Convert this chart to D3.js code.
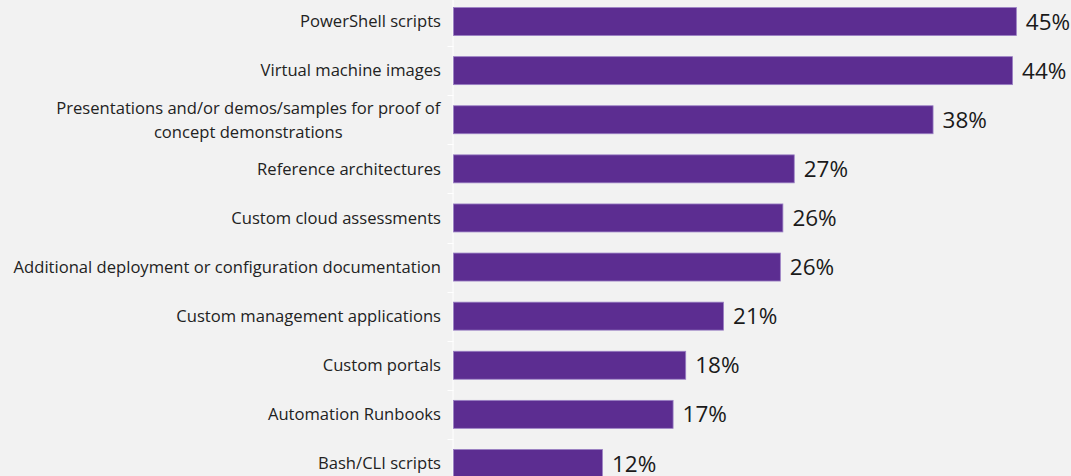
<!DOCTYPE html>
<html>
<head>
<meta charset="utf-8">
<script src="https://cdn.jsdelivr.net/npm/d3@7"></script>
<style>
  body { margin: 0; background: #f2f2f2; }
  svg { display: block; font-family: "Open Sans", sans-serif; }
</style>
</head>
<body>
<script>
const categories = [
  "PowerShell scripts",
  "Virtual machine images",
  "Presentations and/or demos/samples for proof of|concept demonstrations",
  "Reference architectures",
  "Custom cloud assessments",
  "Additional deployment or configuration documentation",
  "Custom management applications",
  "Custom portals",
  "Automation Runbooks",
  "Bash/CLI scripts"
];
const values = [44.6, 44.3, 38.0, 27.0, 26.1, 25.9, 21.4, 18.4, 17.4, 11.8];

window.onload = init;

function init() {
  const w = 1071;
  const h = 476;
  const left = 453.5;

  const data = categories.map((c, i) => ({ cat: c, val: values[i] }));

  const xScale = d3.scaleLinear()
                   .domain([0, 45])
                   .range([left, left + 45 * 12.62]);

  const yScale = d3.scaleBand()
                   .domain(categories)
                   .range([-3, 488])
                   .paddingInner(0.43)
                   .paddingOuter(0.215);

  const svg = d3.select("body")
                .append("svg")
                .attr("width", w)
                .attr("height", h);

  svg.append("rect")
     .attr("width", w)
     .attr("height", h)
     .attr("fill", "#f2f2f2");

  // axis line + ticks between categories
  svg.append("line")
     .attr("x1", left - 0.5).attr("x2", left - 0.5)
     .attr("y1", 0).attr("y2", h)
     .attr("stroke", "#ffffff")
     .attr("stroke-width", 1);

  const gap = (yScale.step() - yScale.bandwidth()) / 2;
  svg.selectAll(".tick")
     .data(categories.slice(1))
     .enter()
     .append("line")
     .attr("class", "tick")
     .attr("x1", left - 6).attr("x2", left)
     .attr("y1", (d) => Math.round(yScale(d) - gap) + 0.5)
     .attr("y2", (d) => Math.round(yScale(d) - gap) + 0.5)
     .attr("stroke", "#ffffff");

  svg.selectAll(".bar")
     .data(data)
     .enter()
     .append("rect")
     .attr("class", "bar")
     .attr("x", xScale(0))
     .attr("y", (d) => yScale(d.cat))
     .attr("width", (d) => xScale(d.val) - xScale(0))
     .attr("height", yScale.bandwidth())
     .attr("fill", "#5c2d91")
     .attr("stroke", "#9b80c4")
     .attr("stroke-width", 0.8);

  svg.selectAll(".val")
     .data(data)
     .enter()
     .append("text")
     .attr("class", "val")
     .attr("x", (d) => xScale(d.val) + 9.5)
     .attr("y", (d) => yScale(d.cat) + yScale.bandwidth() / 2)
     .attr("dy", "0.36em")
     .attr("font-size", 22.5)
     .attr("fill", "#1a1a1a")
     .text((d) => Math.round(d.val) + "%");

  const labels = svg.selectAll(".cat")
     .data(data)
     .enter()
     .append("text")
     .attr("class", "cat")
     .attr("font-size", 16.6)
     .attr("fill", "#222222");

  labels.each(function(d) {
    const lines = d.cat.split("|");
    const t = d3.select(this);
    const cy = yScale(d.cat) + yScale.bandwidth() / 2;
    if (lines.length == 1) {
      t.attr("x", 441).attr("y", cy).attr("dy", "0.35em")
       .attr("text-anchor", "end").text(lines[0]);
    } else {
      // centred block, right edge at 441
      t.attr("text-anchor", "middle");
      lines.forEach((s, i) => {
        t.append("tspan")
         .attr("x", 0)
         .attr("y", cy + (i - (lines.length - 1) / 2) * 24)
         .attr("dy", "0.35em")
         .text(s);
      });
      const bw = this.getBBox().width;
      t.selectAll("tspan").attr("x", 441 - bw / 2);
    }
  });
}
</script>
</body>
</html>
